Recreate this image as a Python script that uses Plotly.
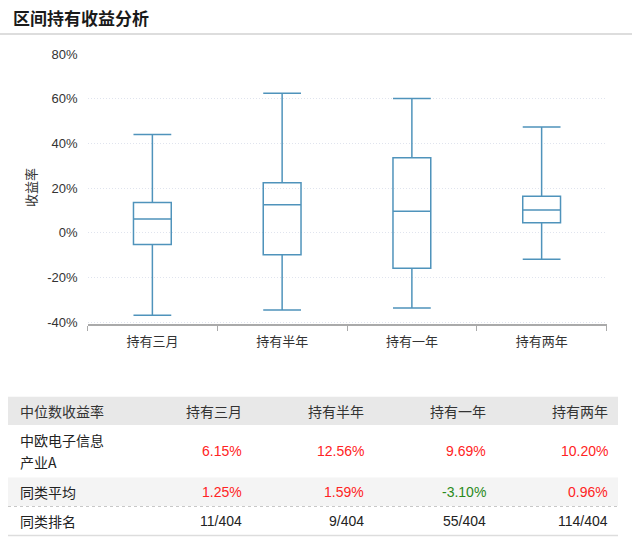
import plotly.graph_objects as go

# ---------------- data ----------------
categories = ["持有三月", "持有半年", "持有一年", "持有两年"]
upper_fence = [44.0, 62.5, 60.1, 47.3]
q3_values = [13.6, 22.4, 33.6, 16.4]
median_values = [6.15, 12.56, 9.69, 10.20]
q1_values = [-5.2, -9.8, -15.8, 4.5]
lower_fence = [-36.8, -34.5, -33.6, -11.8]

y_tick_values = [-40, -20, 0, 20, 40, 60, 80]
y_tick_labels = ["-40%", "-20%", "0%", "20%", "40%", "60%", "80%"]

table_header_first = "中位数收益率"
row_name_lines = [["中欧电子信息", "产业A"], ["同类平均"], ["同类排名"]]
fund_median_text = ["6.15%", "12.56%", "9.69%", "10.20%"]
peer_avg_text = ["1.25%", "1.59%", "-3.10%", "0.96%"]
peer_rank_text = ["11/404", "9/404", "55/404", "114/404"]

# ---------------- helpers ----------------
W, H = 640, 543
def PX(x):
    return x / W
def PY(y):
    return 1 - y / H

FONT = "Liberation Sans, Arial, Noto Sans CJK SC, sans-serif"
CJK = "Noto Sans CJK SC, Liberation Sans, sans-serif"
BOX_COLOR = "#4f93bb"
RED = "#ff2323"
GREEN = "#2a8a1a"

fig = go.Figure()
fig.add_trace(go.Box(
    x=categories,
    q1=q1_values, median=median_values, q3=q3_values,
    lowerfence=lower_fence, upperfence=upper_fence,
    line=dict(color=BOX_COLOR, width=1.5),
    fillcolor="rgba(255,255,255,0)",
    whiskerwidth=1,
    boxpoints=False,
    hoverinfo="skip",
    showlegend=False,
))

fig.update_layout(
    width=W, height=H,
    margin=dict(l=0, r=0, t=0, b=0),
    paper_bgcolor="white", plot_bgcolor="white",
    boxgap=0.584,
    font=dict(family=FONT, size=12, color="#333"),
    xaxis=dict(
        type="category", range=[-0.5, 3.5],
        domain=[PX(87.5), PX(606.5)],
        showline=True, linecolor="#aaaaaa", linewidth=1.5,
        ticks="outside", tickson="boundaries", ticklen=5, tickcolor="#aaaaaa",
        tickwidth=1,
        showgrid=False, zeroline=False,
        ticklabelstandoff=4,
        tickfont=dict(family=CJK, size=13, color="#333"),
        automargin=False,
    ),
    yaxis=dict(
        range=[-40.9, 80], domain=[PY(324.3), PY(54)],
        tickmode="array", tickvals=y_tick_values, ticktext=y_tick_labels,
        showgrid=True, gridcolor="#e0e4ee", griddash="1px,2px", gridwidth=1,
        zeroline=False, showline=False, ticks="",
        ticklabelstandoff=9,
        tickfont=dict(family=FONT, size=13, color="#333"),
        automargin=False,
    ),
)

annotations = []
shapes = []

# title
annotations.append(dict(text="<b>区间持有收益分析</b>", x=PX(11), y=PY(17), xref="paper", yref="paper",
                        xanchor="left", yanchor="middle", showarrow=False,
                        font=dict(family=CJK, size=17, color="#1a1a1a")))
shapes.append(dict(type="line", xref="paper", yref="paper", x0=PX(0), x1=PX(632), y0=PY(34), y1=PY(34),
                   line=dict(color="#dddddd", width=2)))

# y axis title
annotations.append(dict(text="收益率", x=PX(30), y=PY(188), xref="paper", yref="paper",
                        xanchor="center", yanchor="middle", showarrow=False, textangle=-90,
                        font=dict(family=CJK, size=13, color="#333")))

# ---------------- table ----------------
T_LEFT, T_RIGHT = 8, 618
col_right = [243.5, 366, 488, 610]
header_top, header_bot = 396.7, 425
row_bounds = [(425, 477.5), (477.5, 506), (506, 535.5)]

shapes.append(dict(type="rect", xref="paper", yref="paper", x0=PX(T_LEFT), x1=PX(T_RIGHT),
                   y0=PY(header_bot), y1=PY(header_top), fillcolor="#e8e8e8", line=dict(width=0), layer="below"))
shapes.append(dict(type="rect", xref="paper", yref="paper", x0=PX(T_LEFT), x1=PX(T_RIGHT),
                   y0=PY(row_bounds[1][1]), y1=PY(row_bounds[1][0]), fillcolor="#f4f4f4", line=dict(width=0), layer="below"))
shapes.append(dict(type="line", xref="paper", yref="paper", x0=PX(T_LEFT), x1=PX(T_RIGHT),
                   y0=PY(506.5), y1=PY(506.5), line=dict(color="#c8c8c8", width=1, dash="dot")))
shapes.append(dict(type="line", xref="paper", yref="paper", x0=PX(T_LEFT), x1=PX(T_RIGHT),
                   y0=PY(535.5), y1=PY(535.5), line=dict(color="#dddddd", width=1.5)))

def add_text(txt, x, y, anchor, color, family=FONT):
    annotations.append(dict(text=txt, x=PX(x), y=PY(y), xref="paper", yref="paper",
                            xanchor=anchor, yanchor="middle", showarrow=False,
                            font=dict(family=family, size=14, color=color)))

header_mid = (header_top + header_bot) / 2
add_text(table_header_first, 18, header_mid, "left", "#333", CJK)
for c, name in enumerate(categories):
    add_text(name, col_right[c], header_mid, "right", "#333", CJK)

row_values = [fund_median_text, peer_avg_text, peer_rank_text]
for r, (top, bot) in enumerate(row_bounds):
    mid = (top + bot) / 2
    lines = row_name_lines[r]
    n = len(lines)
    for i, ln in enumerate(lines):
        add_text(ln, 18, mid + (i - (n - 1) / 2) * 22, "left", "#222", CJK)
    for c, val in enumerate(row_values[r]):
        if r < 2:
            color = GREEN if val.startswith("-") else RED
        else:
            color = "#222"
        add_text(val, col_right[c], mid, "right", color)

fig.update_layout(annotations=annotations, shapes=shapes)
fig.write_html("out.html")
